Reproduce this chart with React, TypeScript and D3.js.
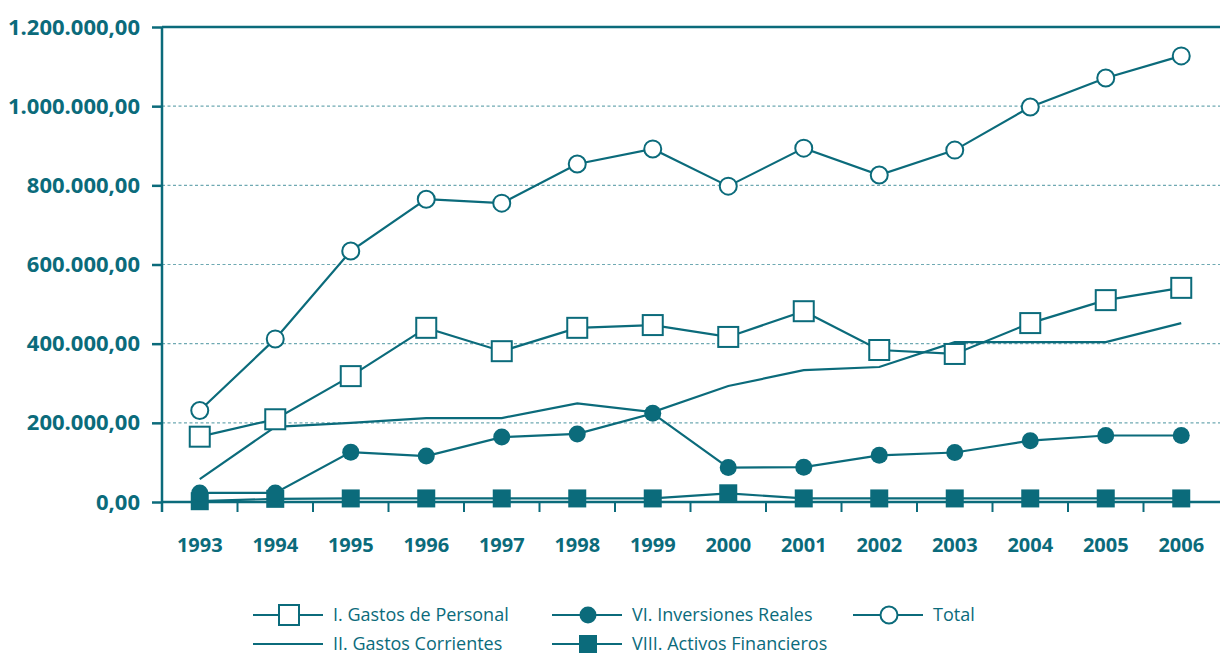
import * as d3 from "d3";
import { useRef, useEffect } from "react";

const years = ["1993", "1994", "1995", "1996", "1997", "1998", "1999", "2000", "2001", "2002", "2003", "2004", "2005", "2006"];

const gastosPersonal = [165000, 209000, 318000, 440000, 381000, 440000, 447000, 417000, 482000, 384000, 374000, 452000, 510000, 541000];
const gastosCorrientes = [58000, 190000, 200000, 212000, 212000, 249000, 227000, 293000, 333000, 341000, 404000, 404000, 404000, 452000];
const inversionesReales = [23000, 23000, 126000, 116000, 164000, 172000, 224000, 87000, 88000, 118000, 125000, 155000, 168000, 168000];
const activosFinancieros = [2000, 8000, 9000, 9000, 9000, 9000, 9000, 22000, 9000, 9000, 9000, 9000, 9000, 9000];
const total = [231000, 412000, 634000, 765000, 755000, 854000, 892000, 798000, 894000, 826000, 889000, 998000, 1071000, 1127000];

const yTicks = [0, 200000, 400000, 600000, 800000, 1000000, 1200000];
const yTickLabels = ["0,00", "200.000,00", "400.000,00", "600.000,00", "800.000,00", "1.000.000,00", "1.200.000,00"];

const legendRow1 = ["I. Gastos de Personal", "VI. Inversiones Reales", "Total"];
const legendRow2 = ["II. Gastos Corrientes", "VIII. Activos Financieros"];

const App = () => {
  const container = useRef(null);

  useEffect(() => {
    createChart();
  });

  const createChart = () => {
    let teal = "#0b6b7b";
    let gridColor = "#6fa9b2";
    let font = "'Open Sans', 'DejaVu Sans', sans-serif";

    let dims = { width: 1220, height: 655 };
    let plot = { l: 162, r: 1219, t: 27, b: 502 };

    let svg = d3
      .select(container.current)
      .selectAll("svg")
      .data([0])
      .join("svg")
      .attr("width", dims.width)
      .attr("height", dims.height)
      .style("position", "absolute")
      .style("left", 0)
      .style("top", 0)
      .style("background", "#fff");

    let xScale = d3.scaleBand().domain(years).range([plot.l, plot.r]);
    let yScale = d3.scaleLinear().domain([0, 1200000]).range([plot.b, plot.t]);
    let xPos = (i) => xScale(years[i]) + xScale.bandwidth() / 2;

    // gridlines
    svg
      .selectAll(".grid-line")
      .data(yTicks.filter((d) => d > 0 && d < 1200000))
      .join("line")
      .attr("class", "grid-line")
      .attr("x1", plot.l)
      .attr("x2", dims.width)
      .attr("y1", (d) => yScale(d))
      .attr("y2", (d) => yScale(d))
      .attr("stroke", gridColor)
      .attr("stroke-width", 1.2)
      .attr("stroke-dasharray", "3,2.5");

    // y axis
    let yAxis = d3
      .axisLeft(yScale)
      .tickValues(yTicks)
      .tickFormat((d, i) => yTickLabels[i])
      .tickSize(10)
      .tickPadding(12)
      .tickSizeOuter(0);

    let yaxisg = svg
      .selectAll(".y-axis-g")
      .data([0])
      .join("g")
      .attr("class", "y-axis-g")
      .attr("transform", `translate(${plot.l},0)`)
      .call(yAxis);
    yaxisg.select(".domain").remove();
    yaxisg.selectAll("line").attr("stroke", teal).attr("stroke-width", 2.5);
    yaxisg
      .selectAll("text")
      .attr("fill", teal)
      .style("font-family", font)
      .style("font-size", "22px")
      .style("font-weight", 700);

    // frame lines
    svg
      .selectAll(".frame-line")
      .data([
        [plot.l, plot.t, dims.width, plot.t],
        [plot.l, plot.t, plot.l, plot.b + 10],
        [plot.l, plot.b, dims.width, plot.b],
      ])
      .join("line")
      .attr("class", "frame-line")
      .attr("x1", (d) => d[0])
      .attr("y1", (d) => d[1])
      .attr("x2", (d) => d[2])
      .attr("y2", (d) => d[3])
      .attr("stroke", teal)
      .attr("stroke-width", 2.5);

    // x ticks at band boundaries
    svg
      .selectAll(".x-tick")
      .data(years.slice(1))
      .join("line")
      .attr("class", "x-tick")
      .attr("x1", (d) => xScale(d))
      .attr("x2", (d) => xScale(d))
      .attr("y1", plot.b)
      .attr("y2", plot.b + 10)
      .attr("stroke", teal)
      .attr("stroke-width", 2);

    svg
      .selectAll(".x-label")
      .data(years)
      .join("text")
      .attr("class", "x-label")
      .attr("x", (d, i) => xPos(i))
      .attr("y", 552)
      .attr("text-anchor", "middle")
      .attr("fill", teal)
      .style("font-family", font)
      .style("font-size", "20px")
      .style("font-weight", 700)
      .text((d) => d);

    // series
    let series = [
      { key: "corrientes", values: gastosCorrientes, marker: "none" },
      { key: "activos", values: activosFinancieros, marker: "fsquare" },
      { key: "inversiones", values: inversionesReales, marker: "fcircle" },
      { key: "personal", values: gastosPersonal, marker: "osquare" },
      { key: "total", values: total, marker: "ocircle" },
    ];

    let lineGen = d3
      .line()
      .x((d, i) => xPos(i))
      .y((d) => yScale(d));

    let drawMarker = (g, marker, cx, cy) => {
      if (marker === "fsquare") {
        g.append("rect")
          .attr("x", cx - 9)
          .attr("y", cy - 9)
          .attr("width", 18)
          .attr("height", 18)
          .attr("fill", teal);
      } else if (marker === "osquare") {
        g.append("rect")
          .attr("x", cx - 10)
          .attr("y", cy - 10)
          .attr("width", 20)
          .attr("height", 20)
          .attr("fill", "#fff")
          .attr("stroke", teal)
          .attr("stroke-width", 2);
      } else if (marker === "fcircle") {
        g.append("circle")
          .attr("cx", cx)
          .attr("cy", cy)
          .attr("r", 8.5)
          .attr("fill", teal);
      } else if (marker === "ocircle") {
        g.append("circle")
          .attr("cx", cx)
          .attr("cy", cy)
          .attr("r", 8.5)
          .attr("fill", "#fff")
          .attr("stroke", teal)
          .attr("stroke-width", 2);
      }
    };

    let seriesg = svg
      .selectAll(".series-g")
      .data([0])
      .join("g")
      .attr("class", "series-g");
    seriesg.selectAll("*").remove();

    series.forEach((s) => {
      seriesg
        .append("path")
        .attr("d", lineGen(s.values))
        .attr("fill", "none")
        .attr("stroke", teal)
        .attr("stroke-width", 2.2);
    });
    series.forEach((s) => {
      let mg = seriesg.append("g");
      s.values.forEach((v, i) => drawMarker(mg, s.marker, xPos(i), yScale(v)));
    });

    // legend
    let legendg = svg
      .selectAll(".legend-g")
      .data([0])
      .join("g")
      .attr("class", "legend-g");
    legendg.selectAll("*").remove();

    let legendItems = [
      { label: legendRow1[0], marker: "osquare", x: 253, y: 615 },
      { label: legendRow1[1], marker: "fcircle", x: 552, y: 615 },
      { label: legendRow1[2], marker: "ocircle", x: 853, y: 615 },
      { label: legendRow2[0], marker: "none", x: 253, y: 644 },
      { label: legendRow2[1], marker: "fsquare", x: 552, y: 644 },
    ];

    legendItems.forEach((d) => {
      let g = legendg.append("g");
      g.append("line")
        .attr("x1", d.x)
        .attr("x2", d.x + 70)
        .attr("y1", d.y)
        .attr("y2", d.y)
        .attr("stroke", teal)
        .attr("stroke-width", 2.2);
      drawMarker(g, d.marker, d.x + 36, d.y);
      g.append("text")
        .attr("x", d.x + 80)
        .attr("y", d.y + 6)
        .attr("fill", teal)
        .style("font-family", font)
        .style("font-size", "18px")
        .text(d.label);
    });
  };

  return <div ref={container} style={{ width: 1220, height: 655 }}></div>;
};

export default App;
